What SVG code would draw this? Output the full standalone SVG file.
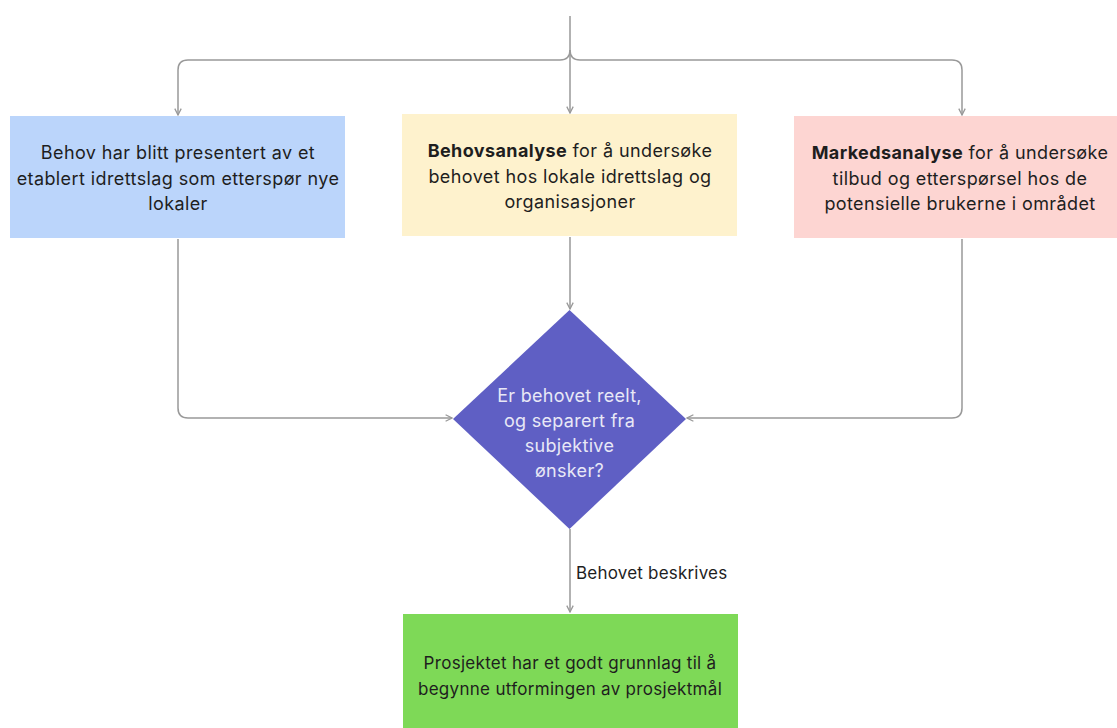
<svg xmlns="http://www.w3.org/2000/svg" width="1117" height="728" viewBox="0 0 1117 728">
<style>
.t{font-family:Inter,"Liberation Sans",sans-serif;font-size:18px;letter-spacing:0.4px;fill:#1e1e1e;text-anchor:middle}
.g{font-size:17px;letter-spacing:0.3px}
.b{font-weight:700}
.d{font-family:Inter,"Liberation Sans",sans-serif;font-size:18px;letter-spacing:0.3px;fill:#e8e8f6;text-anchor:middle}
.lbl{font-family:Inter,"Liberation Sans",sans-serif;font-size:17px;letter-spacing:0.2px;fill:#1e1e1e}
.c{fill:none;stroke:#999;stroke-width:1.5}
</style>
<defs>
<marker id="ah" viewBox="0 0 10 10" refX="9" refY="5" markerWidth="8" markerHeight="8" markerUnits="userSpaceOnUse" orient="auto">
<path d="M1,1 L9,5 L1,9" fill="none" stroke="#999" stroke-width="1.6"/>
</marker>
</defs>
<rect width="1117" height="728" fill="#fff"/>
<g id="connectors">
<path class="c" d="M570,16 V113" marker-end="url(#ah)"/>
<path class="c" d="M570,50 Q570,60 560,60 H188 Q178,60 178,70 V115" marker-end="url(#ah)"/>
<path class="c" d="M570,50 Q570,60 580,60 H952 Q962,60 962,70 V115" marker-end="url(#ah)"/>
<path class="c" d="M570,237 V309" marker-end="url(#ah)"/>
<path class="c" d="M178,239 V408 Q178,418 188,418 H452" marker-end="url(#ah)"/>
<path class="c" d="M962,239 V408 Q962,418 952,418 H687" marker-end="url(#ah)"/>
<path class="c" d="M570,529 V612" marker-end="url(#ah)"/>
<text class="lbl" x="576" y="579">Behovet beskrives</text>
</g>
<g id="node-behov">
<rect x="10" y="116" width="335" height="122" fill="#bbd5fb"/>
<text class="t" x="178" y="159">Behov har blitt presentert av et</text>
<text class="t" x="178" y="184.5">etablert idrettslag som etterspør nye</text>
<text class="t" x="178" y="210">lokaler</text>
</g>
<g id="node-behovsanalyse">
<rect x="402" y="114" width="335" height="122" fill="#fef2cd"/>
<text class="t" x="570" y="157"><tspan class="b">Behovsanalyse</tspan> for å undersøke</text>
<text class="t" x="570" y="182.5">behovet hos lokale idrettslag og</text>
<text class="t" x="570" y="208">organisasjoner</text>
</g>
<g id="node-markedsanalyse">
<rect x="794" y="116" width="323" height="122" fill="#fdd5d2"/>
<text class="t" x="960" y="159"><tspan class="b">Markedsanalyse</tspan> for å undersøke</text>
<text class="t" x="960" y="184.5">tilbud og etterspørsel hos de</text>
<text class="t" x="960" y="210">potensielle brukerne i området</text>
</g>
<g id="node-decision">
<polygon points="569.5,310 686,419 569.5,529 453,419" fill="#5f5fc4"/>
<text class="d" x="569.5" y="402">Er behovet reelt,</text>
<text class="d" x="569.5" y="427">og separert fra</text>
<text class="d" x="569.5" y="452">subjektive</text>
<text class="d" x="569.5" y="477">ønsker?</text>
</g>
<g id="node-prosjekt">
<rect x="403" y="614" width="335" height="114" fill="#7ed957"/>
<text class="t g" x="570" y="669">Prosjektet har et godt grunnlag til å</text>
<text class="t g" x="570" y="695">begynne utformingen av prosjektmål</text>
</g>
</svg>
